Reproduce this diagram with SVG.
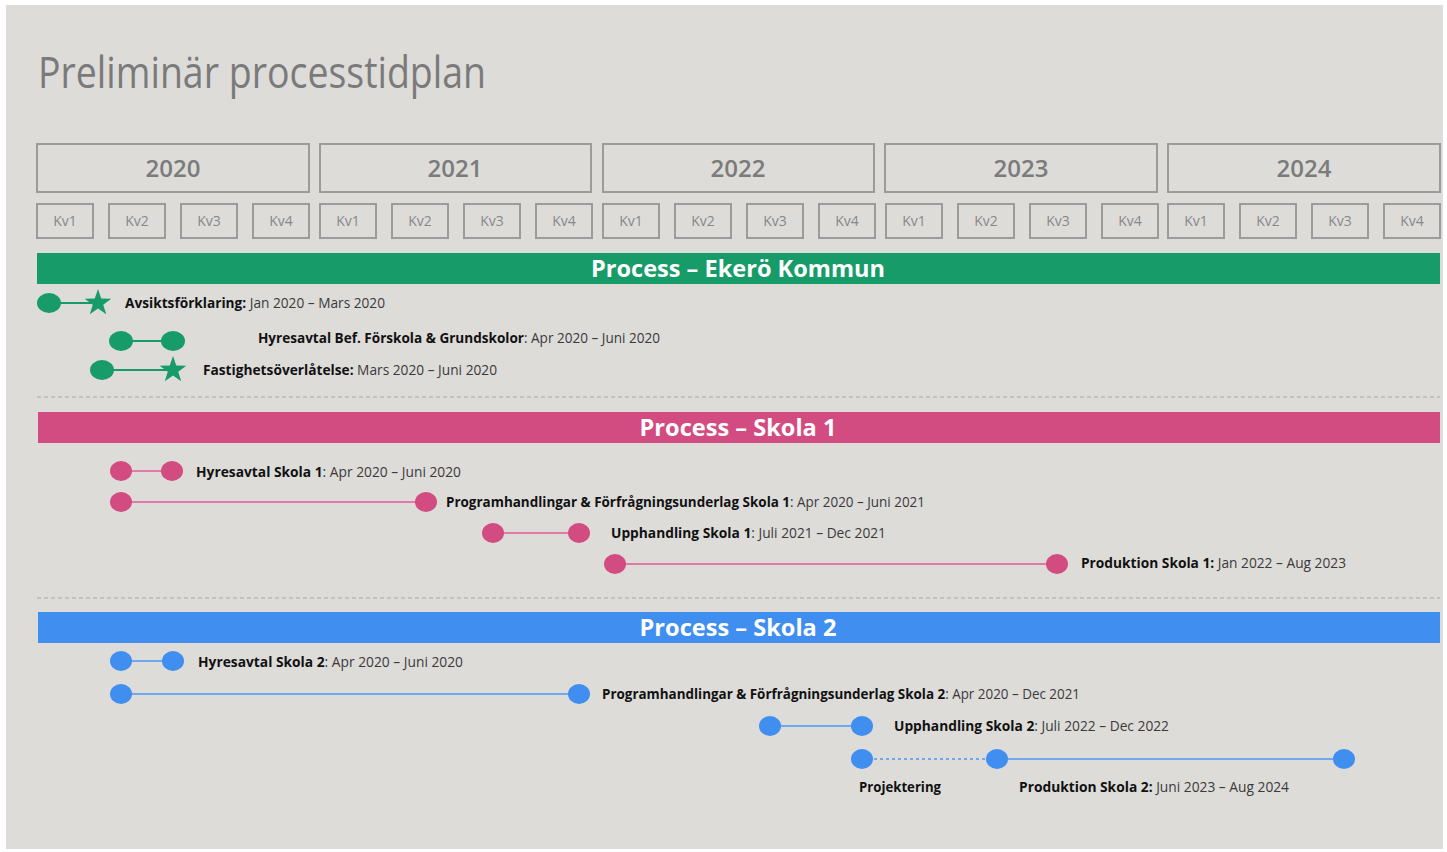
<svg xmlns="http://www.w3.org/2000/svg" xmlns:xlink="http://www.w3.org/1999/xlink" width="1447" height="852" viewBox="0 0 1447 852">
<style>
.yr{fill:none;stroke:#9b9b9b;stroke-width:2}
.yt{font-family:"Open Sans","Liberation Sans",sans-serif;font-size:24px;font-weight:600;fill:#7b7b7b;text-anchor:middle}
.qt{font-family:"Open Sans","Liberation Sans",sans-serif;font-size:14px;fill:#888;text-anchor:middle}
.bar{font-family:"Open Sans","Liberation Sans",sans-serif;font-size:23px;font-weight:bold;fill:#fff;text-anchor:middle}
.lbl{font-family:"Open Sans","Liberation Sans",sans-serif;font-size:14px;fill:#3a3a3a}
.lbl .b{font-weight:bold;fill:#111}
.g{fill:#179b68}
.p{fill:#d24b81}
.bl{fill:#3f8ef0}
.gl{stroke:#179b68;stroke-width:2}
.pl{stroke:#e07aa6;stroke-width:2}
.bll{stroke:#6fa8ee;stroke-width:2}
.dash{stroke:#a8a8a8;stroke-width:1.2;stroke-dasharray:4 3}
</style>
<defs>
<polygon id="star" points="0,-14 3.23,-4.45 13.31,-4.33 5.23,1.7 8.23,11.33 0,5.5 -8.23,11.33 -5.23,1.7 -13.31,-4.33 -3.23,-4.45"/>
</defs>
<rect x="0" y="0" width="1447" height="852" fill="#ffffff"/>
<rect x="6" y="5" width="1437" height="844" fill="#dddcd9"/>
<text x="38" y="88" font-family="'Open Sans','Liberation Sans',sans-serif" font-size="43" fill="#7a7a7a" textLength="448" lengthAdjust="spacingAndGlyphs">Preliminär processtidplan</text>

<g id="years">
<rect class="yr" x="37" y="144" width="272" height="48"/><text class="yt" x="173" y="177">2020</text>
<rect class="yr" x="320" y="144" width="271" height="48"/><text class="yt" x="455" y="177">2021</text>
<rect class="yr" x="603" y="144" width="271" height="48"/><text class="yt" x="738" y="177">2022</text>
<rect class="yr" x="885" y="144" width="272" height="48"/><text class="yt" x="1021" y="177">2023</text>
<rect class="yr" x="1168" y="144" width="272" height="48"/><text class="yt" x="1304" y="177">2024</text>
</g>
<g id="quarters">
<rect class="yr" x="37" y="204" width="56" height="34"/><text class="qt" x="65" y="226">Kv1</text>
<rect class="yr" x="109" y="204" width="56" height="34"/><text class="qt" x="137" y="226">Kv2</text>
<rect class="yr" x="181" y="204" width="56" height="34"/><text class="qt" x="209" y="226">Kv3</text>
<rect class="yr" x="253" y="204" width="56" height="34"/><text class="qt" x="281" y="226">Kv4</text>
<rect class="yr" x="320" y="204" width="56" height="34"/><text class="qt" x="348" y="226">Kv1</text>
<rect class="yr" x="392" y="204" width="56" height="34"/><text class="qt" x="420" y="226">Kv2</text>
<rect class="yr" x="464" y="204" width="56" height="34"/><text class="qt" x="492" y="226">Kv3</text>
<rect class="yr" x="536" y="204" width="56" height="34"/><text class="qt" x="564" y="226">Kv4</text>
<rect class="yr" x="603" y="204" width="56" height="34"/><text class="qt" x="631" y="226">Kv1</text>
<rect class="yr" x="675" y="204" width="56" height="34"/><text class="qt" x="703" y="226">Kv2</text>
<rect class="yr" x="747" y="204" width="56" height="34"/><text class="qt" x="775" y="226">Kv3</text>
<rect class="yr" x="819" y="204" width="56" height="34"/><text class="qt" x="847" y="226">Kv4</text>
<rect class="yr" x="886" y="204" width="56" height="34"/><text class="qt" x="914" y="226">Kv1</text>
<rect class="yr" x="958" y="204" width="56" height="34"/><text class="qt" x="986" y="226">Kv2</text>
<rect class="yr" x="1030" y="204" width="56" height="34"/><text class="qt" x="1058" y="226">Kv3</text>
<rect class="yr" x="1102" y="204" width="56" height="34"/><text class="qt" x="1130" y="226">Kv4</text>
<rect class="yr" x="1168" y="204" width="56" height="34"/><text class="qt" x="1196" y="226">Kv1</text>
<rect class="yr" x="1240" y="204" width="56" height="34"/><text class="qt" x="1268" y="226">Kv2</text>
<rect class="yr" x="1312" y="204" width="56" height="34"/><text class="qt" x="1340" y="226">Kv3</text>
<rect class="yr" x="1384" y="204" width="56" height="34"/><text class="qt" x="1412" y="226">Kv4</text>
</g>

<g id="bars">
<rect x="37" y="253" width="1403" height="31" fill="#179b68"/>
<text class="bar" x="738" y="277" textLength="294" lengthAdjust="spacingAndGlyphs">Process – Ekerö Kommun</text>
<line class="dash" x1="37" y1="397" x2="1440" y2="397"/>
<rect x="38" y="412" width="1402" height="31" fill="#d24b81"/>
<text class="bar" x="738" y="436" textLength="197" lengthAdjust="spacingAndGlyphs">Process – Skola 1</text>
<line class="dash" x1="37" y1="598" x2="1440" y2="598"/>
<rect x="38" y="612" width="1402" height="31" fill="#3f8ef0"/>
<text class="bar" x="738" y="636" textLength="197" lengthAdjust="spacingAndGlyphs">Process – Skola 2</text>
</g>

<g id="connectors">
<line class="gl" x1="49" y1="303" x2="98" y2="303"/>
<line class="gl" x1="121" y1="341" x2="173" y2="341"/>
<line class="gl" x1="102" y1="370" x2="173" y2="370"/>
<line class="pl" x1="121" y1="471" x2="172" y2="471"/>
<line class="pl" x1="121" y1="502" x2="426" y2="502"/>
<line class="pl" x1="493" y1="533" x2="579" y2="533"/>
<line class="pl" x1="615" y1="564" x2="1057" y2="564"/>
<line class="bll" x1="121" y1="661" x2="173" y2="661"/>
<line class="bll" x1="121" y1="694" x2="579" y2="694"/>
<line class="bll" x1="770" y1="726" x2="862" y2="726"/>
<line class="bll" x1="862" y1="759" x2="997" y2="759" stroke-dasharray="3 3"/>
<line class="bll" x1="997" y1="759" x2="1344" y2="759"/>
</g>

<g id="avsikt">
<ellipse class="g" cx="49" cy="303" rx="12" ry="10"/>
<use href="#star" x="98" y="303" class="g"/>
<text class="lbl" x="125" y="308" textLength="260" lengthAdjust="spacingAndGlyphs"><tspan class="b">Avsiktsförklaring:</tspan> Jan 2020 – Mars 2020</text>
</g>
<g id="hyresavtal-bef">
<ellipse class="g" cx="121" cy="341" rx="12" ry="10"/>
<ellipse class="g" cx="173" cy="341" rx="12" ry="10"/>
<text class="lbl" x="258" y="343" textLength="402" lengthAdjust="spacingAndGlyphs"><tspan class="b">Hyresavtal Bef. Förskola &amp; Grundskolor</tspan>: Apr 2020 – Juni 2020</text>
</g>
<g id="fastighet">
<ellipse class="g" cx="102" cy="370" rx="12" ry="10"/>
<use href="#star" x="173" y="370" class="g"/>
<text class="lbl" x="203" y="375" textLength="294" lengthAdjust="spacingAndGlyphs"><tspan class="b">Fastighetsöverlåtelse:</tspan> Mars 2020 – Juni 2020</text>
</g>

<g id="hyresavtal-s1">
<ellipse class="p" cx="121" cy="471" rx="11" ry="10"/>
<ellipse class="p" cx="172" cy="471" rx="11" ry="10"/>
<text class="lbl" x="196" y="477" textLength="265" lengthAdjust="spacingAndGlyphs"><tspan class="b">Hyresavtal Skola 1</tspan>: Apr 2020 – Juni 2020</text>
</g>
<g id="program-s1">
<ellipse class="p" cx="121" cy="502" rx="11" ry="10"/>
<ellipse class="p" cx="426" cy="502" rx="11" ry="10"/>
<text class="lbl" x="446" y="507" textLength="479" lengthAdjust="spacingAndGlyphs"><tspan class="b">Programhandlingar &amp; Förfrågningsunderlag Skola 1</tspan>: Apr 2020 – Juni 2021</text>
</g>
<g id="upphandling-s1">
<ellipse class="p" cx="493" cy="533" rx="11" ry="10"/>
<ellipse class="p" cx="579" cy="533" rx="11" ry="10"/>
<text class="lbl" x="611" y="538" textLength="275" lengthAdjust="spacingAndGlyphs"><tspan class="b">Upphandling Skola 1</tspan>: Juli 2021 – Dec 2021</text>
</g>
<g id="produktion-s1">
<ellipse class="p" cx="615" cy="564" rx="11" ry="10"/>
<ellipse class="p" cx="1057" cy="564" rx="11" ry="10"/>
<text class="lbl" x="1081" y="568" textLength="265" lengthAdjust="spacingAndGlyphs"><tspan class="b">Produktion Skola 1:</tspan> Jan 2022 – Aug 2023</text>
</g>

<g id="hyresavtal-s2">
<ellipse class="bl" cx="121" cy="661" rx="11" ry="10"/>
<ellipse class="bl" cx="173" cy="661" rx="11" ry="10"/>
<text class="lbl" x="198" y="667" textLength="265" lengthAdjust="spacingAndGlyphs"><tspan class="b">Hyresavtal Skola 2</tspan>: Apr 2020 – Juni 2020</text>
</g>
<g id="program-s2">
<ellipse class="bl" cx="121" cy="694" rx="11" ry="10"/>
<ellipse class="bl" cx="579" cy="694" rx="11" ry="10"/>
<text class="lbl" x="602" y="699" textLength="478" lengthAdjust="spacingAndGlyphs"><tspan class="b">Programhandlingar &amp; Förfrågningsunderlag Skola 2</tspan>: Apr 2020 – Dec 2021</text>
</g>
<g id="upphandling-s2">
<ellipse class="bl" cx="770" cy="726" rx="11" ry="10"/>
<ellipse class="bl" cx="862" cy="726" rx="11" ry="10"/>
<text class="lbl" x="894" y="731" textLength="275" lengthAdjust="spacingAndGlyphs"><tspan class="b">Upphandling Skola 2</tspan>: Juli 2022 – Dec 2022</text>
</g>
<g id="projektering">
<ellipse class="bl" cx="862" cy="759" rx="11" ry="10"/>
<text class="lbl" x="859" y="792" textLength="82" lengthAdjust="spacingAndGlyphs"><tspan class="b">Projektering</tspan></text>
</g>
<g id="produktion-s2">
<ellipse class="bl" cx="997" cy="759" rx="11" ry="10"/>
<ellipse class="bl" cx="1344" cy="759" rx="11" ry="10"/>
<text class="lbl" x="1019" y="792" textLength="270" lengthAdjust="spacingAndGlyphs"><tspan class="b">Produktion Skola 2:</tspan> Juni 2023 – Aug 2024</text>
</g>
</svg>
